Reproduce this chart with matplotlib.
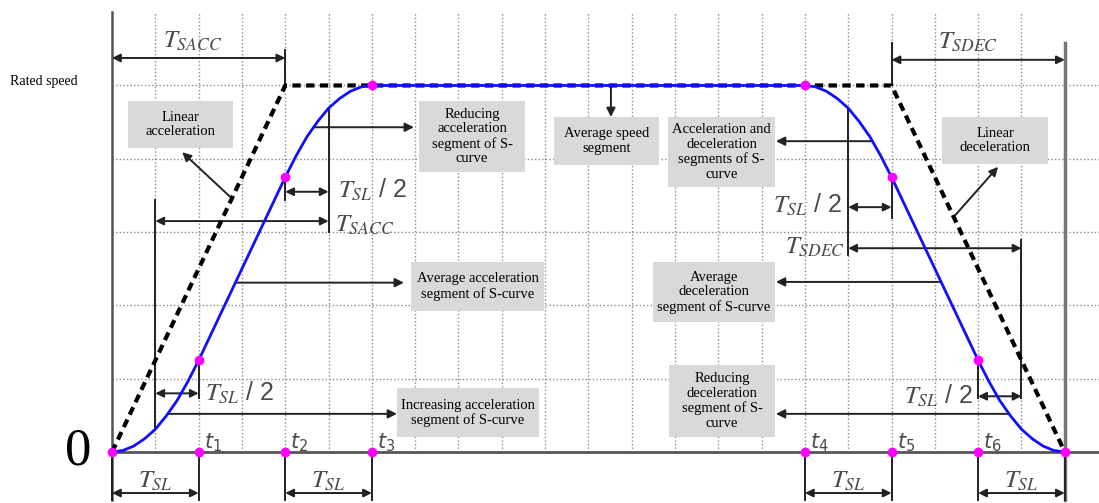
import matplotlib.pyplot as plt
from matplotlib.patches import Rectangle

plt.rcParams['font.family'] = ['Liberation Serif', 'DejaVu Serif']
plt.rcParams['mathtext.fontset'] = 'stix'

# S-curve speed profile, time in grid units (T_SL = 2), speed in grid units
curve_t = [0, 0.25, 0.5, 0.75, 1, 1.25, 1.5, 1.75, 2,
           4, 4.25, 4.5, 4.75, 5, 5.25, 5.5, 5.75, 6,
           16, 16.25, 16.5, 16.75, 17, 17.25, 17.5, 17.75, 18,
           20, 20.25, 20.5, 20.75, 21, 21.25, 21.5, 21.75, 22]
curve_v = [0, 0.02, 0.08, 0.18, 0.31, 0.49, 0.70, 0.96, 1.25,
           3.75, 4.04, 4.30, 4.51, 4.69, 4.82, 4.92, 4.98, 5,
           5, 4.98, 4.92, 4.82, 4.69, 4.51, 4.30, 4.04, 3.75,
           1.25, 0.96, 0.70, 0.49, 0.31, 0.18, 0.08, 0.02, 0]

# trapezoid (linear acceleration / deceleration)
ramp_t = [0, 4, 18, 22]
ramp_v = [0, 5, 5, 0]

# marked points
key_t = [0, 2, 4, 6, 16, 18, 20, 22]
key_v = [0, 1.25, 3.75, 5, 5, 3.75, 1.25, 0]
tick_t = [2, 4, 6, 16, 18, 20]
tick_labels = ['$t_1$', '$t_2$', '$t_3$', '$t_4$', '$t_5$', '$t_6$']
rated = 5
bottom = -0.655

fig = plt.figure(figsize=(10.99, 5.03), dpi=100)
ax = fig.add_axes([0, 0, 1, 1])
ax.set_xlim(-2.587, 22.79)
ax.set_ylim(-0.696, 6.166)
ax.axis('off')

LC = '#222222'
TC = '#4a4a4a'
GC = '#8a8a8a'

# grid
for g in range(1, 22):
    ax.plot([g, g], [0, 6], color=GC, lw=1, ls=(0, (1, 1.6)), zorder=1)
for g in range(1, 6):
    ax.plot([0, 22.79], [g, g], color=GC, lw=1, ls=(0, (1, 1.6)), zorder=1)

# axes
ax.plot([0, 22.79], [0, 0], color='#555555', lw=2, zorder=2)
ax.plot([0, 0], [bottom, 6], color='#555555', lw=1.8, zorder=2)
ax.plot([22, 22], [bottom, 5.58], color='#777777', lw=2.5, zorder=2)


def vline(x, y0, y1, lw=1.4):
    ax.plot([x, x], [y0, y1], color=LC, lw=lw, zorder=3)


def darrow(x0, x1, y):
    ax.annotate('', xy=(x1, y), xytext=(x0, y),
                arrowprops=dict(arrowstyle='<|-|>', color=LC, lw=1.4,
                                mutation_scale=12, shrinkA=0, shrinkB=0),
                zorder=3)


def arrow(x0, y0, x1, y1):
    ax.annotate('', xy=(x1, y1), xytext=(x0, y0),
                arrowprops=dict(arrowstyle='-|>', color=LC, lw=1.4,
                                mutation_scale=13, shrinkA=0, shrinkB=0),
                zorder=3)


def tlabel(x, y, s, ha='left'):
    ax.text(x, y, s, fontsize=18, color=TC, ha=ha, va='center',
            family=['Liberation Sans', 'DejaVu Sans'], zorder=5)


def box(x0, x1, y0, y1, s):
    ax.add_patch(Rectangle((x0, y0), x1 - x0, y1 - y0, fc='#d9d9d9',
                           ec='none', zorder=4))
    ax.text((x0 + x1) / 2, (y0 + y1) / 2, s, fontsize=10.5, ha='center',
            va='center', linespacing=1.15, zorder=5)


# bottom T_SL brackets
for t in tick_t + [0, 22]:
    vline(t, bottom, 0)
for a, b in [(0, 2), (4, 6), (16, 18), (20, 22)]:
    darrow(a, b, -0.56)
    tlabel((a + b) / 2, -0.40, '$T_{SL}$', ha='center')

# top T_SACC / T_SDEC
vline(4, rated, 5.48)
darrow(0, 4, 5.375)
tlabel(1.85, 5.6, '$T_{SACC}$', ha='center')
vline(18, rated, 5.58)
darrow(18, 22, 5.35)
tlabel(19.77, 5.59, '$T_{SDEC}$', ha='center')

# inner acceleration construction
vline(1, 0.3125, 3.44)
vline(5, 4.69, 3.0)
darrow(1, 5, 3.15)
tlabel(5.15, 3.1, '$T_{SACC}$')
vline(4, 3.75, 3.44)
darrow(4, 5, 3.55)
tlabel(5.22, 3.57, '$T_{SL}$ / 2')
vline(2, 1.25, 0.74)
darrow(1, 2, 0.80)
tlabel(2.15, 0.80, '$T_{SL}$ / 2')

# inner deceleration construction
vline(17, 4.69, 2.69)
vline(21, 2.89, 0.73)
darrow(17, 21, 2.78)
tlabel(16.93, 2.80, '$T_{SDEC}$', ha='right')
vline(18, 3.75, 3.19)
darrow(17, 18, 3.34)
tlabel(16.85, 3.37, '$T_{SL}$ / 2', ha='right')
vline(20, 1.25, 0.73)
darrow(20, 21, 0.76)
tlabel(19.88, 0.76, '$T_{SL}$ / 2', ha='right')

# profiles
ax.plot(ramp_t, ramp_v, color='black', lw=3, ls=(0, (2, 1.3)), zorder=6)
ax.plot(curve_t, curve_v, color='#1010ff', lw=2, zorder=7)
ax.plot(key_t, key_v, 'o', color='#ff00ff', ms=6, zorder=8)
ax.plot(tick_t, [0] * len(tick_t), 'o', color='#ff00ff', ms=6, zorder=8)
for t, s in zip(tick_t, tick_labels):
    ax.text(t + 0.12, 0.13, s, fontsize=15, color=TC, ha='left', va='center',
            math_fontfamily='dejavusans', zorder=5)

# annotation boxes
box(0.37, 2.79, 4.15, 4.79, 'Linear\nacceleration')
arrow(2.73, 3.48, 1.62, 4.09)
box(7.09, 9.54, 3.82, 4.79, 'Reducing\nacceleration\nsegment of S-\ncurve')
arrow(4.65, 4.43, 6.97, 4.43)
box(6.9, 9.98, 1.92, 2.59, 'Average acceleration\nsegment of S-curve')
arrow(2.85, 2.31, 6.74, 2.31)
box(6.58, 9.86, 0.2, 0.87, 'Increasing acceleration\nsegment of S-curve')
arrow(1.29, 0.52, 6.58, 0.52)
box(10.2, 12.63, 3.92, 4.57, 'Average speed\nsegment')
arrow(11.52, 5, 11.52, 4.57)
box(12.84, 15.31, 3.62, 4.57,
    'Acceleration and\ndeceleration\nsegments of S-\ncurve')
arrow(17.56, 4.24, 15.33, 4.24)
box(19.17, 21.62, 3.93, 4.57, 'Linear\ndeceleration')
arrow(19.47, 3.23, 20.46, 3.89)
box(12.49, 15.31, 1.77, 2.59, 'Average\ndeceleration\nsegment of S-curve')
arrow(19.14, 2.32, 15.33, 2.32)
box(12.86, 15.31, 0.2, 1.19, 'Reducing\ndeceleration\nsegment of S-\ncurve')
arrow(20.71, 0.52, 15.33, 0.52)

ax.text(-2.36, 5.06, 'Rated speed', fontsize=10, ha='left', va='center')
ax.text(-0.79, 0, '0', fontsize=38, ha='center', va='center')

fig.savefig('out.png', dpi=100)
